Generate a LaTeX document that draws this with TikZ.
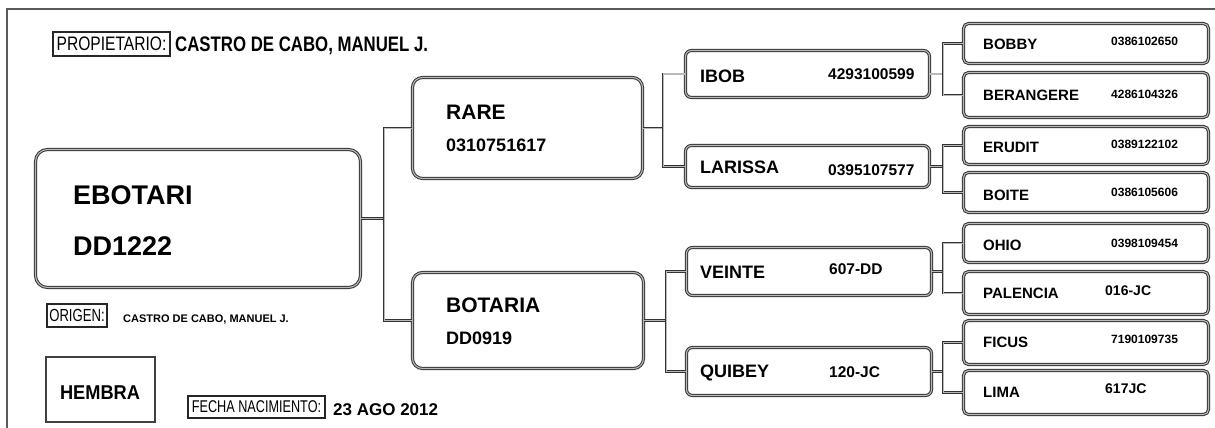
\documentclass[tikz,border=0pt]{standalone}
\usepackage{fontspec}
\setmainfont{Liberation Sans}
\usetikzlibrary{calc}
\tikzset{
  frameline/.style={draw=black!65, line width=2.2pt},
  pbox/.style={draw=black!80, double=gray!55, double distance=1.1pt, line width=1pt,
               rounded corners=#1, inner sep=0pt, anchor=north west},
  pbox/.default=6pt,
  link/.style={draw=black!80, double=gray!55, double distance=1pt, line width=0.9pt},
  tagbox/.style={draw=black!85, line width=1.1pt, inner sep=0pt},
  txt/.style={anchor=base west, inner sep=0pt, font=\bfseries\fontsize{#1}{#1}\selectfont},
  txt/.default=15pt,
}
\begin{document}
\begin{tikzpicture}[x=1pt,y=-1pt]
\useasboundingbox[fill=white] (0,0) rectangle (1215,428);
\draw[frameline] (7,428) -- (7,9) -- (1215,9);

% header
\node[tagbox, minimum width=117pt, minimum height=24pt] (proptag) at (111.5,44)
  {\fontsize{19.5}{20}\selectfont\scalebox{0.8}[1]{PROPIETARIO:}};
\node[anchor=base west, inner sep=0pt, font=\bfseries\fontsize{21}{21}\selectfont] (propname) at (175,52)
  {\scalebox{0.8}[1]{CASTRO DE CABO, MANUEL J.}};

% boxes
\node[pbox=12pt, minimum width=325pt, minimum height=138pt] (ebotari) at (35,149) {};
\node[pbox=10pt, minimum width=230pt, minimum height=101pt] (rare) at (412,77) {};
\node[pbox=10pt, minimum width=231pt, minimum height=96pt] (botaria) at (412,272) {};
\node[pbox, minimum width=244pt, minimum height=47pt] (ibob) at (685,50) {};
\node[pbox, minimum width=244pt, minimum height=42pt] (larissa) at (685,145) {};
\node[pbox, minimum width=245pt, minimum height=48pt] (veinte) at (686,247) {};
\node[pbox, minimum width=245pt, minimum height=48pt] (quibey) at (686,347) {};
\node[pbox=5pt, minimum width=245pt, minimum height=40pt] (bobby) at (963,23) {};
\node[pbox=5pt, minimum width=245pt, minimum height=45pt] (berangere) at (963,72) {};
\node[pbox=5pt, minimum width=245pt, minimum height=38pt] (erudit) at (963,126) {};
\node[pbox=5pt, minimum width=245pt, minimum height=40pt] (boite) at (963,172) {};
\node[pbox=5pt, minimum width=245pt, minimum height=39pt] (ohio) at (963,223) {};
\node[pbox=5pt, minimum width=245pt, minimum height=43pt] (palencia) at (963,271) {};
\node[pbox=5pt, minimum width=245pt, minimum height=44pt] (ficus) at (963,320) {};
\node[pbox=5pt, minimum width=245pt, minimum height=44pt] (lima) at (963,370) {};

% texts
\node[txt=27pt] (t-ebotari) at (73,204) {EBOTARI};
\node[txt=27pt] (n-ebotari) at (73,255) {DD1222};
\node[txt=21pt] (t-rare) at (446,119) {RARE};
\node[txt=18pt] (n-rare) at (446,151) {0310751617};
\node[txt=21pt] (t-botaria) at (446,312) {BOTARIA};
\node[txt=18pt] (n-botaria) at (446,344) {DD0919};
\node[txt=18pt] (t-ibob) at (700,82) {IBOB};
\node[txt=15.5pt] (n-ibob) at (828,80) {4293100599};
\node[txt=18pt] (t-larissa) at (700,173) {LARISSA};
\node[txt=15.5pt] (n-larissa) at (828,175) {0395107577};
\node[txt=18pt] (t-veinte) at (700,278) {VEINTE};
\node[txt=15.5pt] (n-veinte) at (829,274) {607-DD};
\node[txt=18pt] (t-quibey) at (700,377) {QUIBEY};
\node[txt=15.5pt] (n-quibey) at (829,377) {120-JC};
\node[txt] (t-bobby) at (983,50) {BOBBY};
\node[txt=12pt] (n-bobby) at (1111,46) {0386102650};
\node[txt] (t-berangere) at (983,100) {BERANGERE};
\node[txt=12pt] (n-berangere) at (1111,98) {4286104326};
\node[txt] (t-erudit) at (983,152) {ERUDIT};
\node[txt=12pt] (n-erudit) at (1111,148) {0389122102};
\node[txt] (t-boite) at (983,200) {BOITE};
\node[txt=12pt] (n-boite) at (1111,196) {0386105606};
\node[txt] (t-ohio) at (983,250) {OHIO};
\node[txt=12pt] (n-ohio) at (1111,247) {0398109454};
\node[txt] (t-palencia) at (983,298) {PALENCIA};
\node[txt=14pt] (n-palencia) at (1105,295) {016-JC};
\node[txt] (t-ficus) at (983,347) {FICUS};
\node[txt=12pt] (n-ficus) at (1111,343) {7190109735};
\node[txt] (t-lima) at (983,397) {LIMA};
\node[txt=14pt] (n-lima) at (1105,393) {617JC};

% lower left labels
\node[tagbox, minimum width=60pt, minimum height=23pt] (origtag) at (77,315.5)
  {\fontsize{17.5}{18}\selectfont\scalebox{0.75}[1]{ORIGEN:}};
\node[txt=11pt] (origname) at (123,322) {CASTRO DE CABO, MANUEL J.};
\node[tagbox, line width=1.6pt, draw=black!75, minimum width=109pt, minimum height=65pt] (sex) at (100.5,389.5) {};
\node[anchor=base, inner sep=0pt, font=\bfseries\fontsize{20}{20}\selectfont] (t-sex) at (100,399)
  {\scalebox{0.91}[1]{HEMBRA}};
\node[tagbox, minimum width=137pt, minimum height=22pt] (fechatag) at (256.5,407)
  {\fontsize{17}{17}\selectfont\scalebox{0.745}[1]{FECHA NACIMIENTO:}};
\node[txt=17pt] (fecha) at (333,415) {23 AGO 2012};

% connectors
\draw[link] (ebotari.east) -- ([xshift=-28pt]rare.west |- ebotari.east);
\draw[link] (rare.west) -- ++(-28,0) |- (botaria.west);
\draw[link] (rare.east) -- ([xshift=-22pt]ibob.west |- rare.east);
\draw[link] (ibob.west) -- ++(-22,0) |- (larissa.west);
\draw[link] (botaria.east) -- ([xshift=-20pt]veinte.west |- botaria.east);
\draw[link] (veinte.west) -- ++(-20,0) |- (quibey.west);
\draw[link] (ibob.east) -- ([xshift=-20pt]bobby.west |- ibob.east);
\draw[link] (bobby.west) -- ++(-20,0) |- (berangere.west);
\draw[link] (larissa.east) -- ([xshift=-20pt]erudit.west |- larissa.east);
\draw[link] (erudit.west) -- ++(-20,0) |- (boite.west);
\draw[link] (veinte.east) -- ([xshift=-20pt]ohio.west |- veinte.east);
\draw[link] (ohio.west) -- ++(-20,0) |- (palencia.west);
\draw[link] (quibey.east) -- ([xshift=-20pt]ficus.west |- quibey.east);
\draw[link] (ficus.west) -- ++(-20,0) |- (lima.west);
\end{tikzpicture}
\end{document}
